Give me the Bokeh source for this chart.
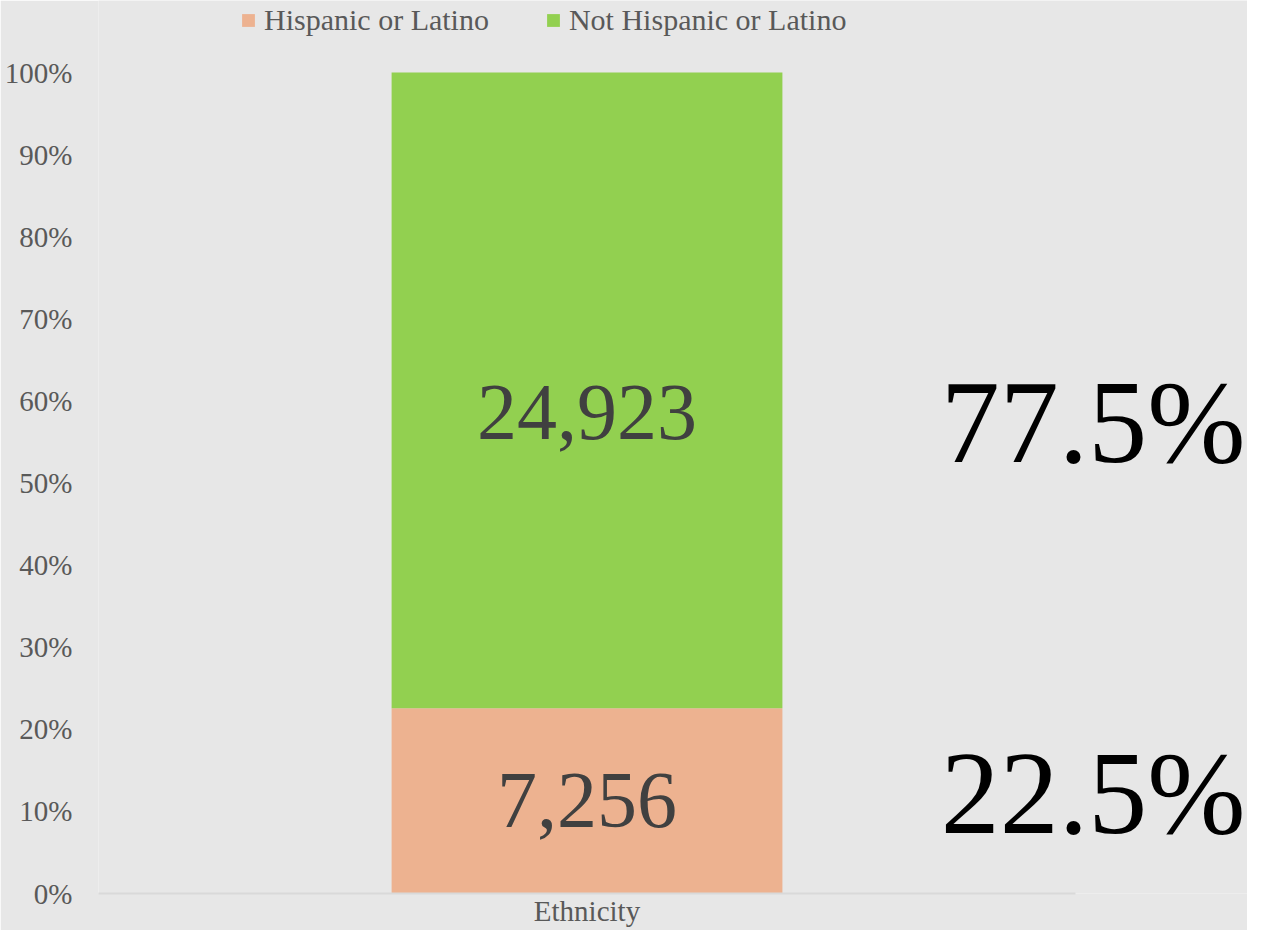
from bokeh.plotting import figure
from bokeh.models import ColumnDataSource, Legend, LegendItem, FixedTicker, Range1d
from bokeh.core.properties import value
from bokeh.embed import file_html
from bokeh.resources import INLINE

# ---- data ----
categories = ["Ethnicity"]
series_names = ["Hispanic or Latino", "Not Hispanic or Latino"]
hispanic = [7256]
not_hispanic = [24923]
y_ticks = [0.0, 0.1, 0.2, 0.3, 0.4, 0.5, 0.6, 0.7, 0.8, 0.9, 1.0]
y_tick_labels = ["0%", "10%", "20%", "30%", "40%", "50%", "60%", "70%", "80%", "90%", "100%"]

# ---- styles / layout ----
FONT = "Liberation Serif"
BG = "#E7E7E7"
colors = ["#EDB290", "#92D050"]
W, H = 1247, 930
LEFT, BOTTOM = 98, 37
AXIS_RIGHT_PX = 1075          # where the category axis ends
PLOT_TOP_PX = 72              # where 100% sits
BAR_WIDTH = 0.4
PCT_LABEL_X = 0.862           # right-hand labels, in axis units
LEGEND_H = 37

totals = [h + n for h, n in zip(hispanic, not_hispanic)]
hisp_frac = [h / t for h, t in zip(hispanic, totals)]
not_frac = [n / t for n, t in zip(not_hispanic, totals)]
xpos = [i + 0.5 for i in range(len(categories))]

source = ColumnDataSource(dict(x=xpos, hisp=hisp_frac, not_hisp=not_frac))

axis_px = AXIS_RIGHT_PX - LEFT
frame_w = W - LEFT
frame_h = H - BOTTOM
unit_h = frame_h - PLOT_TOP_PX

p = figure(x_range=Range1d(0, len(categories) * frame_w / axis_px),
           y_range=Range1d(0, frame_h / unit_h),
           width=W, height=H, output_backend="svg", toolbar_location=None,
           min_border_left=LEFT, min_border_right=0, min_border_top=0, min_border_bottom=BOTTOM,
           background_fill_color=BG, border_fill_color=BG, outline_line_color=None)

renderers = p.vbar_stack(["hisp", "not_hisp"], x="x", width=BAR_WIDTH, color=colors,
                         line_color=None, source=source)

p.xgrid.grid_line_color = None
p.ygrid.grid_line_color = None

for ax in (p.xaxis[0], p.yaxis[0]):
    ax.major_tick_line_color = None
    ax.minor_tick_line_color = None
    ax.major_tick_out = 0
    ax.major_tick_in = 0
    ax.minor_tick_out = 0
    ax.minor_tick_in = 0
    ax.major_label_text_font = FONT
    ax.major_label_text_font_size = "29px"
    ax.major_label_text_color = "#595959"

p.yaxis.ticker = FixedTicker(ticks=y_ticks)
p.yaxis.major_label_overrides = {t: l for t, l in zip(y_ticks, y_tick_labels)}
p.yaxis.axis_line_color = None
p.yaxis.major_label_standoff = 26

p.xaxis.ticker = FixedTicker(ticks=xpos)
p.xaxis.major_label_overrides = {x: c for x, c in zip(xpos, categories)}
p.xaxis.bounds = (0, len(categories))
p.xaxis.axis_line_color = "#D9D9D9"
p.xaxis.axis_line_width = 2
p.xaxis.major_label_standoff = 1

# in-bar count labels
mids = [hisp_frac[0] / 2, hisp_frac[0] + not_frac[0] / 2]
counts = [f"{hispanic[0]:,}", f"{not_hispanic[0]:,}"]
p.text(x=[xpos[0]] * 2, y=mids, text=counts, text_font=value(FONT),
       text_font_size="80px", text_align="center", text_baseline="middle",
       text_color="#404040", y_offset=[0, 22])

# right-hand percentage labels
pcts = [f"{hisp_frac[0]*100:.1f}%", f"{not_frac[0]*100:.1f}%"]
p.text(x=[PCT_LABEL_X] * 2, y=mids, text=pcts, text_font=value(FONT),
       text_font_size="118px", text_align="left", text_baseline="middle",
       text_color="black", y_offset=[-7, 32])

legend = Legend(items=[LegendItem(label=series_names[i], renderers=[renderers[i]]) for i in range(2)],
                orientation="horizontal", location=(240 - LEFT, frame_h - LEGEND_H),
                glyph_width=16, glyph_height=16, label_standoff=8, spacing=56,
                padding=0, margin=0, background_fill_alpha=0, border_line_color=None,
                label_text_font=FONT, label_text_font_size="30px", label_text_color="#595959")
p.add_layout(legend, "center")

open("out.html", "w").write(file_html(p, INLINE))
